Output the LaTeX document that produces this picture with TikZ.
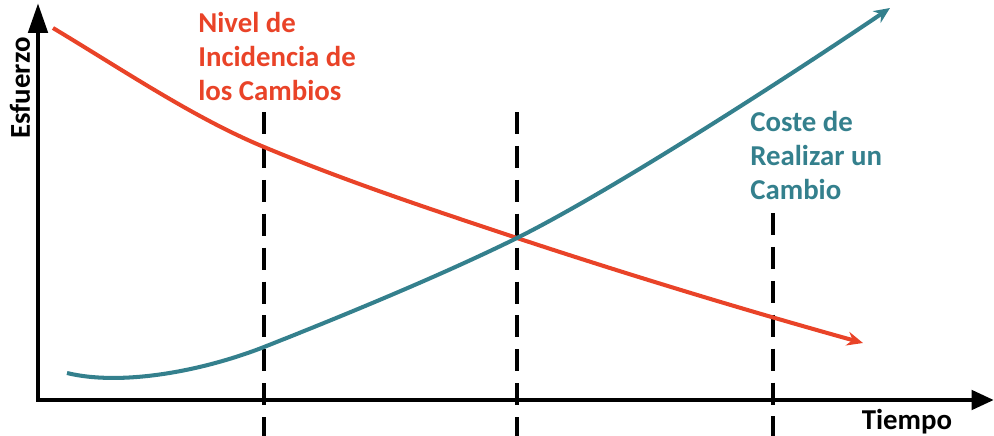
\documentclass[tikz,border=0pt]{standalone}
\usepackage{fontspec}
\setmainfont{Carlito}
\usetikzlibrary{arrows.meta}
\definecolor{redline}{RGB}{233,67,40}
\definecolor{tealline}{RGB}{52,128,141}

\begin{document}
\begin{tikzpicture}[x=0.02cm, y=-0.02cm,
    lbl/.style={inner sep=0pt, font=\bfseries\fontsize{16.4}{19.3}\selectfont},
    guide/.style={line width=2pt, dash pattern=on 12.5pt off 6.8pt},
    curve/.style={line width=2.3pt, -{Stealth[length=0.32cm, width=0.28cm]}}]
    \useasboundingbox (0,0) rectangle (994,436);

    % axes
    \coordinate (o) at (38,400);
    \coordinate (ytip) at (38,3);
    \coordinate (xtip) at (994,400);
    \draw[line width=2.8pt, {Triangle[length=0.6cm, width=0.38cm]}-{Triangle[length=0.45cm, width=0.38cm]}]
        (ytip) -- (o) -- (xtip);
    \node[lbl, rotate=90] (esf) at (20,88) {Esfuerzo};
    \node[lbl, anchor=base] (tiempo) at (907,429) {Tiempo};

    % moments
    \coordinate (a1) at (264,112);
    \coordinate (a2) at (264,436);
    \coordinate (b1) at (517,112);
    \coordinate (b2) at (517,436);
    \coordinate (c1) at (773,213);
    \coordinate (c2) at (773,436);
    \draw[guide] (a1) -- (a2);
    \draw[guide] (b1) -- (b2);
    \draw[guide] (c1) -- (c2);

    % curves
    \coordinate (cross) at (517,238);
    \draw[curve, redline] (53,28) .. controls (123,70) and (194,118) .. (264,147)
        .. controls (348,182) and (433,210) .. (cross)
        .. controls (632,276) and (748,311) .. (863,343);
    \draw[curve, tealline] (67,373) .. controls (120,386) and (200,372) .. (264,347)
        .. controls (340,317) and (440,276) .. (cross)
        .. controls (617,188) and (800,69) .. (890,8);

    \node[lbl, redline, align=left, anchor=north west] (nivel) at (198,12)
        {Nivel de\\Incidencia de\\los Cambios};
    \node[lbl, tealline, align=left, anchor=north west] (coste) at (750,111)
        {Coste de\\Realizar un\\Cambio};
\end{tikzpicture}
\end{document}
